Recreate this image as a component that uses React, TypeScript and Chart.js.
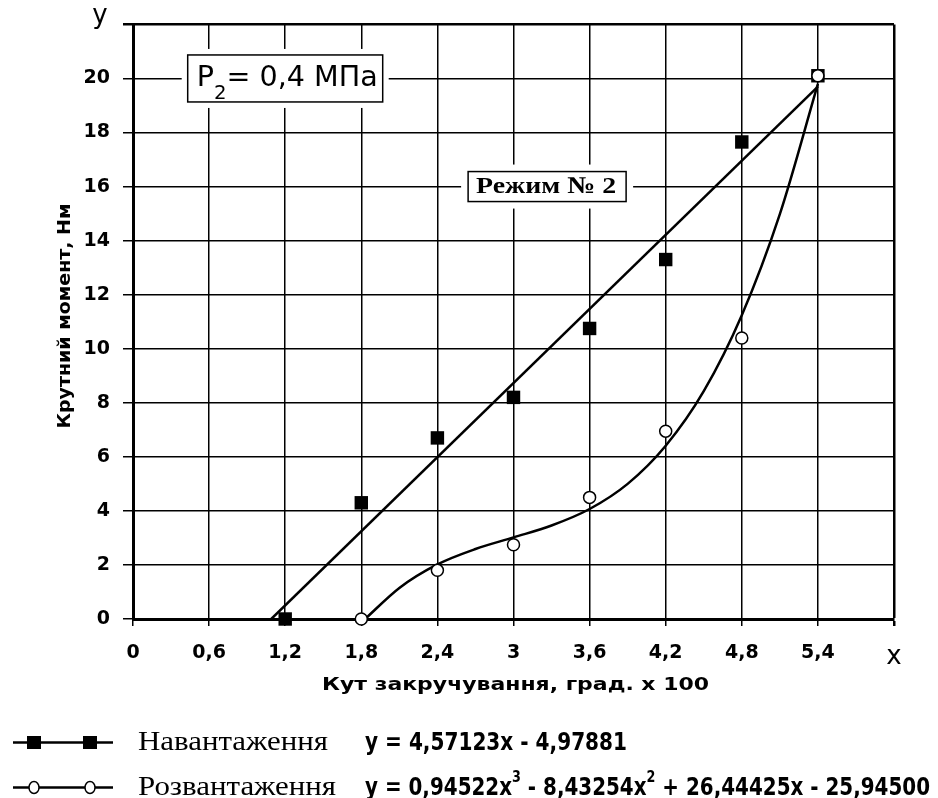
import React, { useEffect, useRef } from 'react';
import { Chart, registerables } from 'chart.js';

Chart.register(...registerables);

// ---- axis ranges / ticks ----
const X_MIN = 0;
const X_MAX = 6;
const X_STEP = 0.6;
const Y_MIN = 0;
const Y_MAX = 22;
const Y_STEP = 2;

const loadX = [1.2, 1.8, 2.4, 3.0, 3.6, 4.2, 4.8, 5.4];
const loadY = [0, 4.3, 6.7, 8.2, 10.75, 13.3, 17.65, 20.1];
const unloadX = [1.8, 2.4, 3.0, 3.6, 4.2, 4.8, 5.4];
const unloadY = [0, 1.8, 2.75, 4.5, 6.95, 10.4, 20.1];

// ---- trend lines ----
const loadTrendX = [1.09, 5.4];
const loadTrendY = [0, 19.7];
const unloadTrendX = [1.83, 2.1, 2.4, 2.7, 3.0, 3.3, 3.6, 3.9, 4.2, 4.5, 4.8, 5.1, 5.4];
const unloadTrendY = [0, 1.15, 2.02, 2.59, 3.02, 3.46, 4.07, 5.0, 6.41, 8.43, 11.24, 14.98, 19.8];

// ---- texts ----
const seriesNames = ['Навантаження', 'Розвантаження'];
type Run = { t: string; sup?: boolean; sub?: boolean };
const equation1: Run[] = [{ t: 'y = 4,57123x - 4,97881' }];
const equation2: Run[] = [
  { t: 'y = 0,94522x' },
  { t: '3', sup: true },
  { t: ' - 8,43254x' },
  { t: '2', sup: true },
  { t: ' + 26,44425x - 25,94500' },
];
const xAxisTitle = 'Кут закручування, град. х 100';
const yAxisTitle = 'Крутний момент, Нм';
const xEndLabel = 'x';
const yEndLabel = 'y';
const pressureLabel: Run[] = [{ t: 'P' }, { t: '2', sub: true }, { t: '= 0,4 МПа' }];
const modeLabel = 'Режим № 2';

// annotation anchors (data coords)
const PRESSURE_AT = { x: 1.2, y: 20 };
const MODE_AT = { x: 3.265, y: 16 };

const SANS = '"DejaVu Sans", Verdana, sans-serif';
const SERIF = '"Liberation Serif", "Times New Roman", serif';

const zip = (xs: number[], ys: number[]) => xs.map((x, i) => ({ x, y: ys[i] }));
const near = (a: number, b: number) => Math.abs(a - b) < 1e-6;

function runsWidth(ctx: CanvasRenderingContext2D, runs: Run[], font: string, small: string) {
  let w = 0;
  for (const r of runs) {
    ctx.font = r.sup || r.sub ? small : font;
    w += ctx.measureText(r.t).width;
  }
  return w;
}

function drawRuns(
  ctx: CanvasRenderingContext2D,
  runs: Run[],
  x: number,
  y: number,
  font: string,
  small: string,
  rise: number,
  drop: number,
  sx: number
) {
  ctx.save();
  ctx.translate(x, y);
  ctx.scale(sx, 1);
  ctx.textAlign = 'left';
  ctx.textBaseline = 'alphabetic';
  ctx.fillStyle = '#000';
  let cx = 0;
  for (const r of runs) {
    ctx.font = r.sup || r.sub ? small : font;
    const dy = r.sup ? -rise : r.sub ? drop : 0;
    ctx.fillText(r.t, cx, dy);
    cx += ctx.measureText(r.t).width;
  }
  ctx.restore();
}

// centred text stretched along its own direction to a given length
function drawStretched(
  ctx: CanvasRenderingContext2D,
  text: string,
  cx: number,
  cy: number,
  font: string,
  length: number,
  rotation: number
) {
  ctx.save();
  ctx.font = font;
  const w = ctx.measureText(text).width;
  ctx.translate(cx, cy);
  ctx.rotate(rotation);
  ctx.scale(length / w, 1);
  ctx.textAlign = 'center';
  ctx.textBaseline = 'middle';
  ctx.fillStyle = '#000';
  ctx.fillText(text, 0, 0);
  ctx.restore();
}

function labelBox(ctx: CanvasRenderingContext2D, cx: number, cy: number, w: number, h: number, margin: number) {
  const l = cx - w / 2;
  const t = cy - h / 2;
  ctx.save();
  ctx.fillStyle = '#fff';
  ctx.fillRect(l - margin, t - margin, w + margin * 2, h + margin * 2);
  ctx.strokeStyle = '#000';
  ctx.lineWidth = 1.5;
  ctx.strokeRect(l, t, w, h);
  ctx.restore();
  return { l, t };
}

const decor = {
  id: 'decor',
  beforeDatasetsDraw(chart: any) {
    const { ctx } = chart;
    const xs = chart.scales.x;
    const ys = chart.scales.y;

    // pressure box
    {
      const { l, t } = labelBox(ctx, xs.getPixelForValue(PRESSURE_AT.x), ys.getPixelForValue(PRESSURE_AT.y), 195, 47, 6);
      const font = `normal 29px ${SANS}`;
      const small = `normal 20px ${SANS}`;
      const w = runsWidth(ctx, pressureLabel, font, small);
      drawRuns(ctx, pressureLabel, l + 9, t + 31, font, small, 0, 13, 181 / w);
    }
    // mode box
    {
      const { l, t } = labelBox(ctx, xs.getPixelForValue(MODE_AT.x), ys.getPixelForValue(MODE_AT.y), 158, 30, 7);
      const font = `bold 24px ${SERIF}`;
      const runs = [{ t: modeLabel }];
      const w = runsWidth(ctx, runs, font, font);
      drawRuns(ctx, runs, l + 8, t + 21, font, font, 0, 0, 140 / w);
    }
  },
  afterDraw(chart: any) {
    const { ctx, chartArea } = chart;
    // axis titles
    drawStretched(ctx, xAxisTitle, (chartArea.left + chartArea.right) / 2 + 2, 686, `bold 17px ${SANS}`, 387, 0);
    drawStretched(ctx, yAxisTitle, 66, 316, `bold 17px ${SANS}`, 225, -Math.PI / 2);

    // y end label
    ctx.save();
    ctx.fillStyle = '#000';
    ctx.font = `normal 26px ${SANS}`;
    ctx.textAlign = 'center';
    ctx.textBaseline = 'alphabetic';
    ctx.fillText(yEndLabel, 100, 23);
    ctx.restore();

    // legend
    const rows = [742.5, 787.5];
    const bases = [750, 795];
    const eqs = [equation1, equation2];
    const eqLen = [262, 565];
    const labelFont = `normal 27px ${SERIF}`;
    ctx.font = labelFont;
    const lsx = 190 / ctx.measureText(seriesNames[0]).width;
    const eqFont = `bold 25px ${SANS}`;
    const eqSmall = `bold 16px ${SANS}`;

    rows.forEach((ry, i) => {
      ctx.save();
      ctx.strokeStyle = '#000';
      ctx.lineWidth = 2.5;
      ctx.beginPath();
      ctx.moveTo(13, ry);
      ctx.lineTo(113, ry);
      ctx.stroke();
      for (const mx of [34, 90]) {
        if (i === 0) {
          ctx.fillStyle = '#000';
          ctx.fillRect(mx - 7, ry - 6.5, 14, 13);
        } else {
          ctx.fillStyle = '#fff';
          ctx.lineWidth = 1.5;
          ctx.beginPath();
          ctx.ellipse(mx, ry, 5, 6, 0, 0, Math.PI * 2);
          ctx.fill();
          ctx.stroke();
        }
      }
      ctx.restore();
      drawRuns(ctx, [{ t: seriesNames[i] }], 138, bases[i], labelFont, labelFont, 0, 0, lsx);
      const esx = eqLen[i] / runsWidth(ctx, eqs[i], eqFont, eqSmall);
      drawRuns(ctx, eqs[i], 365, bases[i], eqFont, eqSmall, 13, 0, esx);
    });
  },
};

export default function App() {
  const ref = useRef<HTMLCanvasElement>(null);

  useEffect(() => {
    const canvas = ref.current;
    if (!canvas) return;
    const tickFont = { family: SANS, size: 19, weight: 'bold' as const };
    const chart = new Chart(canvas, {
      type: 'scatter',
      data: {
        datasets: [
          {
            label: seriesNames[1],
            data: zip(unloadX, unloadY),
            pointStyle: 'circle',
            pointRadius: 6,
            pointBackgroundColor: '#fff',
            pointBorderColor: '#000',
            pointBorderWidth: 1.5,
            showLine: false,
            clip: false,
            order: 0,
          },
          {
            label: seriesNames[0],
            data: zip(loadX, loadY),
            pointStyle: 'rect',
            pointRadius: 9.5,
            pointBackgroundColor: '#000',
            pointBorderColor: '#000',
            pointBorderWidth: 0,
            showLine: false,
            clip: false,
            order: 1,
          },
          {
            label: 'trend1',
            data: zip(loadTrendX, loadTrendY),
            showLine: true,
            borderColor: '#000',
            borderWidth: 2.5,
            pointRadius: 0,
            order: 2,
          },
          {
            label: 'trend2',
            data: zip(unloadTrendX, unloadTrendY),
            showLine: true,
            borderColor: '#000',
            borderWidth: 2.5,
            pointRadius: 0,
            cubicInterpolationMode: 'monotone',
            order: 3,
          },
        ] as any,
      },
      options: {
        animation: false,
        responsive: false,
        devicePixelRatio: 1,
        layout: { padding: { left: 0, top: 24, right: 44, bottom: 0 } },
        plugins: { legend: { display: false }, tooltip: { enabled: false } },
        scales: {
          x: {
            type: 'linear',
            min: X_MIN,
            max: X_MAX,
            ticks: {
              stepSize: X_STEP,
              autoSkip: false,
              maxRotation: 0,
              color: '#000',
              padding: 16,
              font: (c: any) =>
                c.tick && near(c.tick.value, X_MAX)
                  ? { family: SANS, size: 26, weight: 'normal' }
                  : tickFont,
              callback: (v: any) =>
                near(Number(v), X_MAX) ? xEndLabel : Number(Number(v).toFixed(1)).toString().replace('.', ','),
            },
            grid: {
              color: '#000',
              lineWidth: (c: any) => (c.tick && near(c.tick.value, X_MAX) ? 2.5 : 1.5),
              tickLength: 7,
            },
            border: { color: '#000', width: 3 },
            title: { display: false },
            afterFit: (s: any) => {
              s.height = 179;
            },
          } as any,
          y: {
            type: 'linear',
            min: Y_MIN,
            max: Y_MAX,
            ticks: {
              stepSize: Y_STEP,
              autoSkip: false,
              color: '#000',
              padding: 13,
              font: tickFont,
              callback: (v: any) => (near(Number(v), Y_MAX) ? '' : String(v)),
            },
            grid: {
              color: '#000',
              lineWidth: (c: any) => (c.tick && near(c.tick.value, Y_MAX) ? 2.5 : 1.5),
              tickLength: 10,
            },
            border: { color: '#000', width: 3 },
            title: { display: false },
            afterFit: (s: any) => {
              s.width = 133;
            },
          } as any,
        },
      },
      plugins: [decor as any],
    });
    return () => chart.destroy();
  }, []);

  return (
    <div style={{ position: 'absolute', left: 0, top: 0, width: 938, height: 798, background: '#fff' }}>
      <canvas ref={ref} width={938} height={798} style={{ display: 'block' }} />
    </div>
  );
}
